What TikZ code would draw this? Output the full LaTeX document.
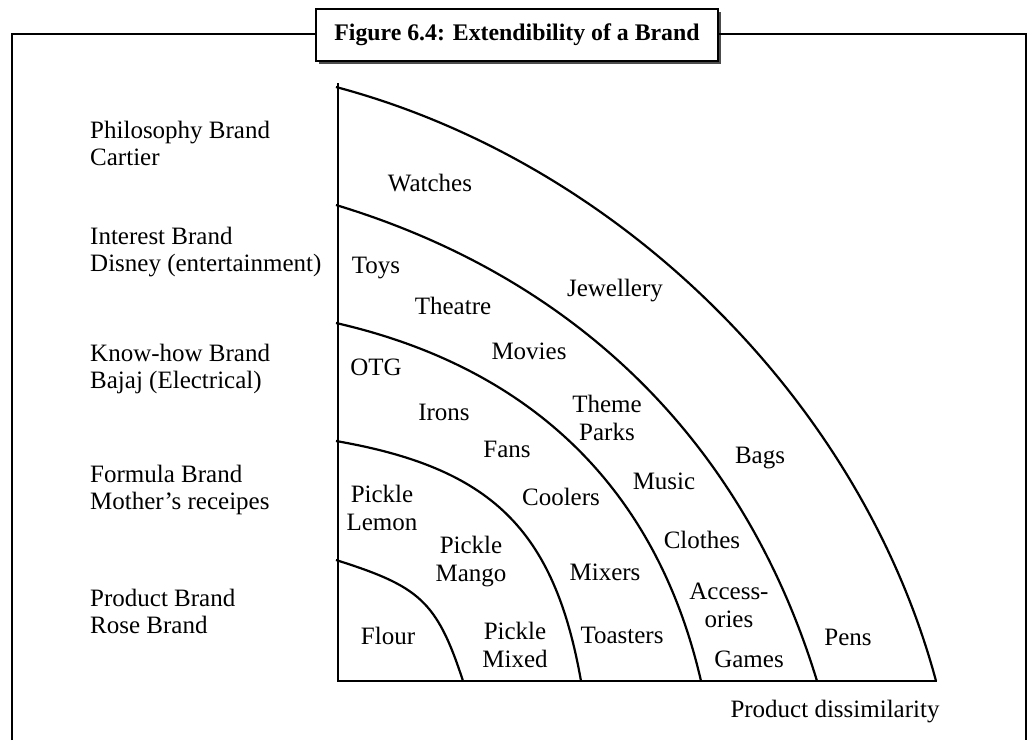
\documentclass[tikz,border=0pt]{standalone}
\usepackage{fontspec}
\setmainfont{Liberation Serif}
\usetikzlibrary{shadows}
\begin{document}
\begin{tikzpicture}[x=1pt,y=-1pt,
  lbl/.style={font=\fontsize{25}{28}\selectfont, inner sep=0pt, text height=16pt, text depth=5pt},
  lbltwo/.style={font=\fontsize{25}{28}\selectfont, inner sep=0pt, align=center},
  side/.style={font=\fontsize{25}{27}\selectfont, inner sep=0pt, align=left, anchor=west},
  arcline/.style={line width=2.2pt},
  axisline/.style={line width=2.6pt},
  frameline/.style={line width=2.8pt},
  titlebox/.style={draw, line width=2pt, fill=white, minimum width=402pt, minimum height=52pt,
    inner sep=0pt, font=\bfseries\fontsize{23.8}{28}\selectfont,
    drop shadow={shadow xshift=2.5pt, shadow yshift=-2.5pt, fill=black, opacity=0.7}}
]
\useasboundingbox (0,0) rectangle (1030,740);
\fill[white] (0,0) rectangle (1030,740);

% frame
\coordinate (fbl) at (12,740);
\coordinate (ftl) at (12,34);
\coordinate (ftr) at (1026,34);
\coordinate (fbr) at (1026,740);
\draw[frameline] (fbl) -- (ftl) -- (ftr) -- (fbr);

% title
\node[titlebox] (title) at (517,35) {Figure 6.4: Extendibility of a Brand};

% axes
\coordinate (ytop) at (338,83);
\coordinate (orig) at (338,681);
\coordinate (xend) at (937,681);
\draw[axisline] (ytop) -- (orig) -- (xend);

% arcs
\coordinate (a1s) at (336,560); \coordinate (a1e) at (463,681);
\coordinate (a2s) at (336,441); \coordinate (a2e) at (581,681);
\coordinate (a3s) at (336,323); \coordinate (a3e) at (701,681);
\coordinate (a4s) at (336,205); \coordinate (a4e) at (817,681);
\coordinate (a5s) at (336,87);  \coordinate (a5e) at (936,681);
\draw[arcline] (a1s) .. controls (418.8,586.3) and (436.7,600.2) .. (a1e);
\draw[arcline] (a2s) .. controls (490.6,467.9) and (554.1,528.4) .. (a2e);
\draw[arcline] (a3s) .. controls (530.9,367.5) and (656.5,488.1) .. (a3e);
\draw[arcline] (a4s) .. controls (577,278) and (744,442) .. (a4e);
\draw[arcline] (a5s) .. controls (619,162.3) and (860.7,400) .. (a5e);

% side labels
\node[side] (philo) at (90,143) {Philosophy Brand\\Cartier};
\node[side] (interest) at (90,252) {Interest Brand\\Disney (entertainment)};
\node[side] (knowhow) at (90,369) {Know-how Brand\\Bajaj (Electrical)};
\node[side] (formula) at (90,490) {Formula Brand\\Mother’s receipes};
\node[side] (product) at (90,611) {Product Brand\\Rose Brand};

% band labels
\node[lbl] (watches) at (430,186) {Watches};
\node[lbl] (toys) at (376,268) {Toys};
\node[lbl] (theatre) at (453,309) {Theatre};
\node[lbl] (jewel) at (615,291) {Jewellery};
\node[lbl] (movies) at (529,354) {Movies};
\node[lbl] (otg) at (376,370) {OTG};
\node[lbl] (irons) at (444,415) {Irons};
\node[lbltwo] (theme) at (607,418) {Theme\\Parks};
\node[lbl] (fans) at (507,452) {Fans};
\node[lbl] (bags) at (760,458) {Bags};
\node[lbl] (music) at (664,484) {Music};
\node[lbltwo] (plemon) at (382,508) {Pickle\\Lemon};
\node[lbl] (coolers) at (561,500) {Coolers};
\node[lbltwo] (pmango) at (471,562) {Pickle\\Mango};
\node[lbl] (mixers) at (605,575) {Mixers};
\node[lbl] (clothes) at (702,543) {Clothes};
\node[lbltwo] (access) at (729,605) {Access-\\ories};
\node[lbl] (flour) at (388,639) {Flour};
\node[lbltwo] (pmixed) at (515,645) {Pickle\\Mixed};
\node[lbl] (toasters) at (622,638) {Toasters};
\node[lbl] (games) at (749,662) {Games};
\node[lbl] (pens) at (848,640) {Pens};
\node[lbl] (dissim) at (835,712) {Product dissimilarity};
\end{tikzpicture}
\end{document}
